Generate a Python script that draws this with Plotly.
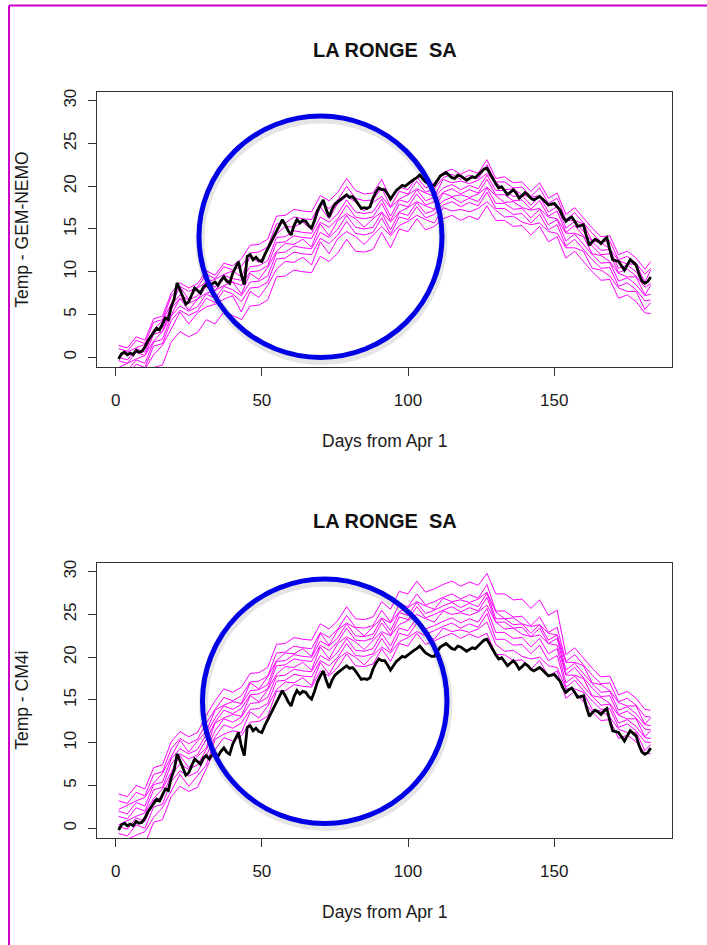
import plotly.graph_objects as go

# ---------------------------------------------------------------------------
# DATA
# ---------------------------------------------------------------------------
days = list(range(1, 184))                      # days from Apr 1
ens_days = list(range(1, 182, 3)) + [183]       # ensemble members, every 3rd day

# observed daily temperature (black line, identical in both panels)
obs_temp = [
    -0.2, 0.4, 0.6, 0.3, 0.5, 0.3, 0.8, 0.6, 0.7, 1.2,
    1.9, 2.4, 2.9, 3.4, 3.2, 4.0, 4.6, 4.4, 5.9, 6.8,
    8.7, 7.9, 7.0, 6.2, 6.5, 7.4, 8.1, 7.8, 7.5, 8.2,
    8.5, 8.1, 8.6, 8.8, 8.4, 9.0, 9.4, 8.9, 8.65, 9.8,
    10.5, 11.2, 9.6, 8.5, 11.8, 12.0, 11.4, 11.7, 11.3, 11.2,
    12.0, 12.7, 13.4, 14.1, 14.6, 15.3, 16.1, 15.5, 14.8, 14.3,
    15.4, 16.1, 15.7, 16.0, 15.9, 15.4, 15.1, 16.0, 17.1, 17.8,
    18.4, 17.3, 16.4, 17.3, 17.9, 18.2, 18.5, 18.8, 19.0, 18.7,
    18.8, 18.4, 17.9, 17.4, 17.5, 17.4, 17.6, 18.6, 19.3, 19.8,
    19.6, 19.6, 19.1, 18.5, 19.0, 19.5, 19.8, 20.1, 20.0, 20.3,
    20.5, 20.8, 21.0, 21.3, 20.9, 20.5, 20.3, 20.1, 20.1, 20.6,
    21.2, 21.4, 21.6, 21.3, 21.0, 20.9, 21.3, 21.2, 20.9, 20.7,
    20.9, 21.1, 21.0, 21.3, 21.7, 22.0, 22.1, 21.5, 20.8, 20.3,
    19.8, 19.95, 19.5, 19.0, 19.3, 19.6, 19.2, 18.6, 18.9, 19.25,
    19.0, 18.6, 18.4, 18.6, 18.8, 18.5, 18.1, 17.8, 17.9, 18.0,
    17.6, 17.2, 16.4, 15.9, 16.2, 16.4, 15.9, 15.3, 15.4, 15.5,
    14.2, 13.1, 13.5, 13.8, 13.6, 13.3, 13.7, 14.0, 12.6, 11.4,
    11.3, 11.2, 10.7, 10.2, 10.8, 11.4, 11.1, 10.8, 9.7, 8.9,
    8.65, 8.85, 9.4,
]

# GEM-NEMO ensemble members (magenta, top panel)
gem_nemo_01 = [1.4, 1.1, 2.4, 2.0, 4.5, 4.8, 7.5, 8.7, 8.1, 8.6, 10.1, 9.6, 11.0, 10.7,
               11.5, 13.1, 13.2, 13.8, 16.5, 16.6, 17.3, 17.1, 17.0, 18.9, 18.3, 19.3, 20.9, 19.5, 19.1, 19.2, 20.8, 18.5,
               19.9, 19.6, 21.1, 19.8, 20.4, 21.6, 22.0, 21.4, 21.9, 21.5, 23.1,
               20.9, 21.1, 20.4, 20.5, 19.4, 20.4, 18.6, 19.2, 16.7, 17.5, 16.3, 15.1, 14.1, 14.2, 12.0, 12.4, 11.6, 10.3, 11.2]
gem_nemo_02 = [1.0, 0.7, 2.0, 1.6, 4.1, 4.4, 7.1, 8.3, 7.7, 8.2, 9.7, 9.2, 10.6, 10.2,
               10.6, 12.2, 12.3, 12.9, 15.6, 15.7, 16.4, 16.2, 16.1, 18.0, 17.4, 18.4, 20.0, 18.6, 18.3, 18.4, 19.8, 17.6,
               19.4, 19.1, 20.6, 19.3, 19.7, 21.0, 21.4, 20.8, 21.3, 20.9, 22.5,
               20.5, 20.5, 19.8, 19.9, 18.8, 19.8, 18.0, 18.6, 16.1, 16.9, 15.7, 14.5, 13.5, 13.6, 11.4, 11.8, 11.0, 9.7, 10.4]
gem_nemo_03 = [0.1, 0.6, 1.1, 1.5, 3.2, 4.3, 6.2, 8.2, 6.8, 8.1, 8.8, 9.1, 9.7, 10.1,
               9.4, 11.8, 11.1, 12.5, 14.4, 15.3, 15.2, 15.8, 14.9, 17.6, 16.2, 18.0, 18.8, 18.2, 17.1, 18.1, 18.8, 17.5,
               18.5, 19.0, 19.7, 19.2, 18.8, 20.8, 20.4, 20.6, 20.3, 20.7, 21.5,
               20.4, 19.6, 19.7, 19.0, 18.7, 18.9, 17.9, 17.7, 16.0, 16.0, 15.6, 13.6, 13.4, 12.7, 11.3, 10.9, 10.9, 8.8, 10.2]
gem_nemo_04 = [0.0, -0.3, 1.0, 0.6, 3.1, 3.4, 6.1, 7.3, 6.7, 7.2, 8.7, 8.2, 9.6, 9.2,
               9.0, 10.6, 10.7, 11.3, 14.0, 14.1, 14.8, 14.6, 14.5, 16.4, 15.8, 16.8, 18.4, 17.0, 16.8, 17.0, 18.5, 16.5,
               18.4, 18.1, 19.6, 18.3, 18.7, 19.8, 20.2, 19.6, 20.1, 19.7, 21.3,
               19.5, 19.5, 18.8, 18.9, 17.8, 18.8, 17.0, 17.6, 15.1, 15.9, 14.7, 13.5, 12.5, 12.6, 10.4, 10.8, 10.0, 8.7, 9.2]
gem_nemo_05 = [-0.4, -0.7, 0.6, 0.2, 2.7, 3.0, 5.7, 6.9, 6.3, 6.8, 8.3, 7.8, 9.2, 8.8,
               8.4, 10.0, 10.1, 10.7, 13.4, 13.5, 14.2, 14.0, 13.9, 15.8, 15.2, 16.2, 17.8, 16.4, 16.2, 16.4, 18.0, 16.0,
               17.9, 17.6, 19.1, 17.8, 18.2, 19.3, 19.7, 19.1, 19.6, 19.2, 20.8,
               19.0, 19.0, 18.3, 18.4, 17.3, 18.3, 16.5, 17.1, 14.6, 15.4, 14.2, 13.0, 12.0, 12.1, 9.9, 10.3, 9.5, 8.2, 8.6]
gem_nemo_06 = [-1.2, -0.7, -0.2, 0.2, 1.9, 3.0, 4.9, 6.9, 5.5, 6.8, 7.5, 7.8, 8.4, 8.8,
               7.4, 9.8, 9.1, 10.5, 12.4, 13.3, 13.2, 13.8, 12.9, 15.6, 14.2, 16.0, 16.8, 16.2, 15.2, 16.2, 17.0, 15.8,
               17.0, 17.5, 18.2, 17.7, 17.3, 19.2, 18.8, 19.0, 18.7, 19.1, 19.9,
               18.9, 18.1, 18.2, 17.5, 17.2, 17.4, 16.4, 16.2, 14.5, 14.5, 14.1, 12.1, 11.9, 11.2, 9.8, 9.4, 9.4, 7.3, 8.4]
gem_nemo_07 = [-1.3, -1.6, -0.3, -0.7, 1.8, 2.1, 4.8, 6.0, 5.4, 5.9, 7.4, 6.9, 8.3, 7.9,
               7.2, 8.8, 8.9, 9.5, 12.2, 12.3, 13.0, 12.8, 12.7, 14.6, 14.0, 15.0, 16.6, 15.2, 15.0, 15.2, 16.9, 14.9,
               16.9, 16.6, 18.1, 16.8, 17.2, 18.3, 18.7, 18.1, 18.6, 18.2, 19.8,
               18.0, 18.0, 17.3, 17.4, 16.3, 17.3, 15.5, 16.1, 13.6, 14.4, 13.2, 12.0, 11.0, 11.1, 8.9, 9.3, 8.5, 7.2, 7.4]
gem_nemo_08 = [-1.8, -2.1, -0.8, -1.2, 1.3, 1.6, 4.3, 5.5, 4.9, 5.4, 6.9, 6.4, 7.8, 7.4,
               6.5, 8.1, 8.2, 8.8, 11.5, 11.6, 12.3, 12.1, 12.0, 13.9, 13.3, 14.3, 15.9, 14.5, 14.3, 14.6, 16.3, 14.4,
               16.4, 16.1, 17.6, 16.3, 16.7, 17.8, 18.2, 17.6, 18.1, 17.7, 19.3,
               17.4, 17.4, 16.7, 16.8, 15.7, 16.7, 14.9, 15.5, 13.0, 13.8, 12.6, 11.4, 10.4, 10.5, 8.3, 8.7, 7.9, 6.6, 6.7]
gem_nemo_09 = [-2.8, -2.3, -1.8, -1.4, 0.3, 1.4, 3.3, 5.3, 3.9, 5.2, 5.9, 6.2, 6.8, 7.2,
               5.3, 7.7, 7.0, 8.4, 10.3, 11.2, 11.1, 11.7, 10.8, 13.5, 12.1, 13.9, 14.7, 14.1, 13.2, 14.3, 15.3, 14.2,
               15.4, 15.9, 16.6, 16.1, 15.7, 17.5, 17.1, 17.3, 17.0, 17.4, 18.2,
               17.2, 16.4, 16.5, 15.8, 15.5, 15.7, 14.7, 14.5, 12.8, 12.8, 12.4, 10.4, 10.2, 9.5, 8.1, 7.7, 7.7, 5.6, 6.4]
gem_nemo_10 = [-4.3, -4.6, -3.3, -3.7, -1.2, -0.9, 1.8, 3.0, 2.4, 2.9, 4.4, 3.9, 5.3, 4.9,
               4.4, 6.0, 6.1, 6.7, 9.4, 9.5, 10.2, 10.0, 9.9, 11.8, 11.2, 12.2, 13.8, 12.4, 12.3, 12.6, 14.6, 12.8,
               15.0, 14.7, 16.2, 14.9, 15.3, 16.2, 16.6, 16.0, 16.5, 16.1, 17.7,
               16.0, 16.0, 15.3, 15.4, 14.3, 15.3, 13.5, 14.1, 11.6, 12.4, 11.2, 10.0, 9.0, 9.1, 6.9, 7.3, 6.5, 5.2, 5.1]

# CM4i ensemble members (magenta, bottom panel)
cm4i_01 = [4.0, 3.7, 5.0, 4.6, 7.1, 7.4, 10.1, 11.3, 10.7, 11.2, 13.2,
           14.9, 16.3, 15.9, 16.5, 18.1, 18.2, 18.8,
           21.5, 21.6, 22.3, 22.1, 22.0, 23.9, 23.3, 24.3, 25.9, 24.5, 24.4, 24.7, 26.5,
           25.6, 27.7, 27.4, 28.9, 27.6, 28.0, 28.5, 28.9, 28.3, 28.8, 28.4, 29.8,
           27.4, 27.4, 26.7, 26.8, 25.7, 26.7, 24.9, 25.5,
           20.3, 21.1, 19.9, 18.7, 17.7, 17.8, 15.6, 16.0, 15.2, 13.9, 13.8]
cm4i_02 = [3.2, 2.9, 4.2, 3.8, 6.3, 6.6, 9.3, 10.5, 9.9, 10.4, 12.3,
           13.9, 15.3, 14.9, 15.5, 17.1, 17.2, 17.8,
           20.5, 20.6, 21.3, 21.1, 21.0, 22.9, 22.3, 23.3, 24.9, 23.5, 23.4, 23.7, 25.5,
           24.1, 26.2, 25.9, 27.4, 26.1, 26.5, 27.0, 27.4, 26.8, 27.3, 26.9, 28.5,
           25.4, 25.4, 24.7, 24.8, 23.7, 24.7, 22.9, 23.5,
           19.5, 20.3, 19.1, 17.9, 16.9, 17.0, 14.8, 15.2, 14.4, 13.1, 13.0]
cm4i_03 = [2.2, 2.7, 3.2, 3.6, 5.3, 6.4, 8.3, 10.3, 8.9, 10.2, 11.3,
           13.8, 14.4, 14.8, 14.6, 17.0, 16.3, 17.7,
           19.6, 20.5, 20.4, 21.0, 20.1, 22.8, 21.4, 23.2, 24.0, 23.4, 22.5, 23.6, 24.6,
           24.0, 25.3, 25.8, 26.5, 26.0, 25.6, 26.9, 26.5, 26.7, 26.4, 26.8, 27.6,
           25.3, 24.5, 24.6, 23.9, 23.6, 23.8, 22.8, 22.6,
           19.4, 19.4, 19.0, 17.0, 16.8, 16.1, 14.7, 14.3, 14.3, 12.2, 12.9]
cm4i_04 = [2.0, 1.7, 3.0, 2.6, 5.1, 5.4, 8.1, 9.3, 8.7, 9.2, 11.0,
           12.9, 14.3, 13.9, 14.5, 16.1, 16.2, 16.8,
           19.5, 19.6, 20.3, 20.1, 20.0, 21.9, 21.3, 22.3, 23.9, 22.5, 22.4, 22.7, 24.5,
           23.1, 25.2, 24.9, 26.4, 25.1, 25.5, 26.0, 26.4, 25.8, 26.3, 25.9, 27.5,
           24.5, 24.5, 23.8, 23.9, 22.8, 23.8, 22.0, 22.6,
           18.5, 19.3, 18.1, 16.9, 15.9, 16.0, 13.8, 14.2, 13.4, 12.1, 12.0]
cm4i_05 = [1.4, 1.1, 2.4, 2.0, 4.5, 4.8, 7.5, 8.7, 8.1, 8.6, 10.4,
           12.4, 13.8, 13.4, 14.0, 15.6, 15.7, 16.3,
           19.0, 19.1, 19.8, 19.6, 19.5, 21.4, 20.8, 21.8, 23.4, 22.0, 21.9, 22.2, 24.0,
           22.6, 24.7, 24.4, 25.9, 24.6, 25.0, 25.5, 25.9, 25.3, 25.8, 25.4, 27.0,
           24.1, 24.1, 23.4, 23.5, 22.4, 23.4, 21.6, 22.2,
           18.0, 18.8, 17.6, 16.4, 15.4, 15.5, 13.3, 13.7, 12.9, 11.6, 11.5]
cm4i_06 = [0.4, 0.9, 1.4, 1.8, 3.5, 4.6, 6.5, 8.5, 7.1, 8.4, 9.4,
           12.3, 12.9, 13.3, 13.1, 15.5, 14.8, 16.2,
           18.0, 18.9, 18.8, 19.4, 18.5, 21.2, 19.8, 21.6, 22.4, 21.8, 20.9, 22.0, 23.0,
           22.5, 23.8, 24.3, 25.0, 24.5, 24.1, 25.4, 25.0, 25.2, 24.9, 25.3, 26.1,
           24.1, 23.3, 23.4, 22.7, 22.4, 22.6, 21.6, 21.4,
           17.9, 17.9, 17.5, 15.5, 15.3, 14.6, 13.2, 12.8, 12.8, 10.7, 11.4]
cm4i_07 = [0.2, -0.1, 1.2, 0.8, 3.3, 3.6, 6.3, 7.5, 6.9, 7.4, 9.2,
           11.4, 12.8, 12.4, 13.0, 14.6, 14.7, 15.3,
           17.8, 17.9, 18.6, 18.4, 18.3, 20.2, 19.6, 20.6, 22.2, 20.8, 20.7, 21.0, 22.8,
           21.3, 23.4, 23.1, 24.6, 23.3, 23.7, 24.2, 24.6, 24.0, 24.5, 24.1, 25.7,
           22.9, 22.9, 22.2, 22.3, 21.2, 22.2, 20.4, 21.0,
           17.0, 17.8, 16.6, 15.4, 14.4, 14.5, 12.3, 12.7, 11.9, 10.6, 10.5]
cm4i_08 = [-0.6, -0.9, 0.4, 0.0, 2.5, 2.8, 5.5, 6.7, 6.1, 6.6, 8.5,
           10.7, 12.1, 11.7, 12.3, 13.9, 14.0, 14.6,
           17.2, 17.3, 18.0, 17.8, 17.7, 19.6, 19.0, 20.0, 21.6, 20.2, 20.1, 20.4, 22.2,
           20.7, 22.8, 22.5, 24.0, 22.7, 23.1, 23.6, 24.0, 23.4, 23.9, 23.5, 25.1,
           22.1, 22.1, 21.4, 21.5, 20.4, 21.4, 19.6, 20.2,
           16.5, 17.3, 16.1, 14.9, 13.9, 14.0, 11.8, 12.2, 11.4, 10.1, 10.0]
cm4i_09 = [-1.8, -1.3, -0.8, -0.4, 1.3, 2.4, 4.3, 6.3, 4.9, 6.2, 7.4,
           10.4, 11.0, 11.4, 11.2, 13.6, 12.9, 14.3,
           16.2, 17.1, 17.0, 17.6, 16.7, 19.4, 18.0, 19.8, 20.6, 20.0, 19.1, 20.2, 21.2,
           20.5, 21.8, 22.3, 23.0, 22.5, 22.1, 23.4, 23.0, 23.2, 22.9, 23.3, 24.1,
           21.5, 20.7, 20.8, 20.1, 19.8, 20.0, 19.0, 18.8,
           16.3, 16.3, 15.9, 13.9, 13.7, 13.0, 11.6, 11.2, 11.2, 9.1, 9.8]
cm4i_10 = [-2.4, -2.7, -1.4, -1.8, 0.7, 1.0, 3.7, 4.9, 4.3, 4.8, 7.0,
           9.2, 10.6, 10.2, 10.8, 12.4, 12.5, 13.1,
           16.0, 16.1, 16.8, 16.6, 16.5, 18.4, 17.8, 18.8, 20.4, 19.0, 18.9, 19.2, 21.0,
           19.5, 21.6, 21.3, 22.8, 21.5, 21.9, 22.4, 22.8, 22.2, 22.7, 22.3, 22.8,
           20.3, 20.3, 19.6, 19.7, 18.6, 19.6, 17.8, 18.4,
           15.2, 16.0, 14.8, 13.6, 12.6, 12.7, 10.5, 10.9, 10.1, 8.8, 8.7]

x_ticks = [0, 50, 100, 150]
y_ticks = [0, 5, 10, 15, 20, 25, 30]
station = "LA RONGE  SA"
x_label = "Days from Apr 1"
y_labels = ["Temp - GEM-NEMO", "Temp - CM4i"]

gem_members = [gem_nemo_01, gem_nemo_02, gem_nemo_03, gem_nemo_04, gem_nemo_05,
               gem_nemo_06, gem_nemo_07, gem_nemo_08, gem_nemo_09, gem_nemo_10]
cm4i_members = [cm4i_01, cm4i_02, cm4i_03, cm4i_04, cm4i_05,
                cm4i_06, cm4i_07, cm4i_08, cm4i_09, cm4i_10]

# ---------------------------------------------------------------------------
# LAYOUT CONSTANTS (figure is 707 x 945 px, margins 0 -> paper = figure)
# ---------------------------------------------------------------------------
W, H = 707, 945
FONT = "Liberation Sans, Arial, Helvetica, sans-serif"
MAGENTA = "#FF00FF"
BLUE = "#0000E6"


def px_x(p):
    return p / W


def px_y(p):
    return 1 - p / H


x_dom = [px_x(97.3), px_x(672)]
y_doms = [[px_y(367.3), px_y(92.3)], [px_y(838.3), px_y(563.3)]]

# ---------------------------------------------------------------------------
# FIGURE
# ---------------------------------------------------------------------------
fig = go.Figure()

for i, members in enumerate([gem_members, cm4i_members]):
    xa = 'x' if i == 0 else 'x2'
    ya = 'y' if i == 0 else 'y2'
    for m in members:
        fig.add_trace(go.Scatter(x=ens_days, y=m, mode='lines',
                                 line=dict(color=MAGENTA, width=1),
                                 xaxis=xa, yaxis=ya, hoverinfo='skip'))
    fig.add_trace(go.Scatter(x=days, y=obs_temp, mode='lines',
                             line=dict(color='black', width=2.8),
                             xaxis=xa, yaxis=ya, hoverinfo='skip'))

axis_common = dict(showline=True, linecolor='#333333', linewidth=1, mirror=True,
                   showgrid=False, zeroline=False, ticks='outside', ticklen=8,
                   tickcolor='#333333', tickwidth=1, automargin=False,
                   tickfont=dict(family=FONT, size=17, color='#1a1a1a'))

x_common = dict(axis_common, range=[-6.28, 190.28], tickvals=x_ticks,
                ticklabelstandoff=9, domain=x_dom)
y_common = dict(axis_common, range=[-1.17, 30.98], tickvals=y_ticks,
                tickangle=-90, ticklabelstandoff=6)

annotations = []
for i in range(2):
    top = [92.3, 563.3][i]
    bottom = [367.3, 838.3][i]
    annotations.append(dict(text="<b>" + station + "</b>", x=px_x(384.7), y=px_y(top - 42),
                            xref='paper', yref='paper', showarrow=False,
                            xanchor='center', yanchor='middle',
                            font=dict(family=FONT, size=20, color='#111111')))
    annotations.append(dict(text=x_label, x=px_x(384.7), y=px_y(bottom + 74),
                            xref='paper', yref='paper', showarrow=False,
                            xanchor='center', yanchor='middle',
                            font=dict(family=FONT, size=17.5, color='#1a1a1a')))
    annotations.append(dict(text=y_labels[i], x=px_x(22), y=px_y((top + bottom) / 2),
                            xref='paper', yref='paper', showarrow=False, textangle=-90,
                            xanchor='center', yanchor='middle',
                            font=dict(family=FONT, size=17.5, color='#1a1a1a')))

# hand-drawn highlight circles (pixel boxes) and the magenta frame
circles = [(199, 116, 442, 357.5), (202.5, 579, 447, 823.5)]
shapes = []
for (cx0, cy0, cx1, cy1) in circles:
    shapes.append(dict(type='circle', xref='paper', yref='paper', layer='above',
                       x0=px_x(cx0 + 1), x1=px_x(cx1 + 1), y0=px_y(cy1 + 3), y1=px_y(cy0 + 3),
                       line=dict(color='rgba(0,0,0,0.10)', width=9)))
    shapes.append(dict(type='circle', xref='paper', yref='paper', layer='above',
                       x0=px_x(cx0), x1=px_x(cx1), y0=px_y(cy1), y1=px_y(cy0),
                       line=dict(color=BLUE, width=5)))
shapes.append(dict(type='line', xref='paper', yref='paper', x0=px_x(9), x1=px_x(9),
                   y0=0, y1=px_y(5.5), line=dict(color='#CC00CC', width=2)))
shapes.append(dict(type='line', xref='paper', yref='paper', x0=px_x(9), x1=1,
                   y0=px_y(5.5), y1=px_y(5.5), line=dict(color='#CC00CC', width=2)))

fig.update_layout(
    width=W, height=H, autosize=False,
    margin=dict(l=0, r=0, t=0, b=0),
    template='none', showlegend=False,
    paper_bgcolor='white', plot_bgcolor='white',
    font=dict(family=FONT),
    xaxis=dict(x_common, anchor='y'),
    yaxis=dict(y_common, domain=y_doms[0], anchor='x'),
    xaxis2=dict(x_common, anchor='y2'),
    yaxis2=dict(y_common, domain=y_doms[1], anchor='x2'),
    annotations=annotations,
    shapes=shapes,
)

# the page's default 8px body margin would shift the whole figure
fig.write_html("out.html", config={'displayModeBar': False},
               post_script="document.body.style.margin='0px';")
